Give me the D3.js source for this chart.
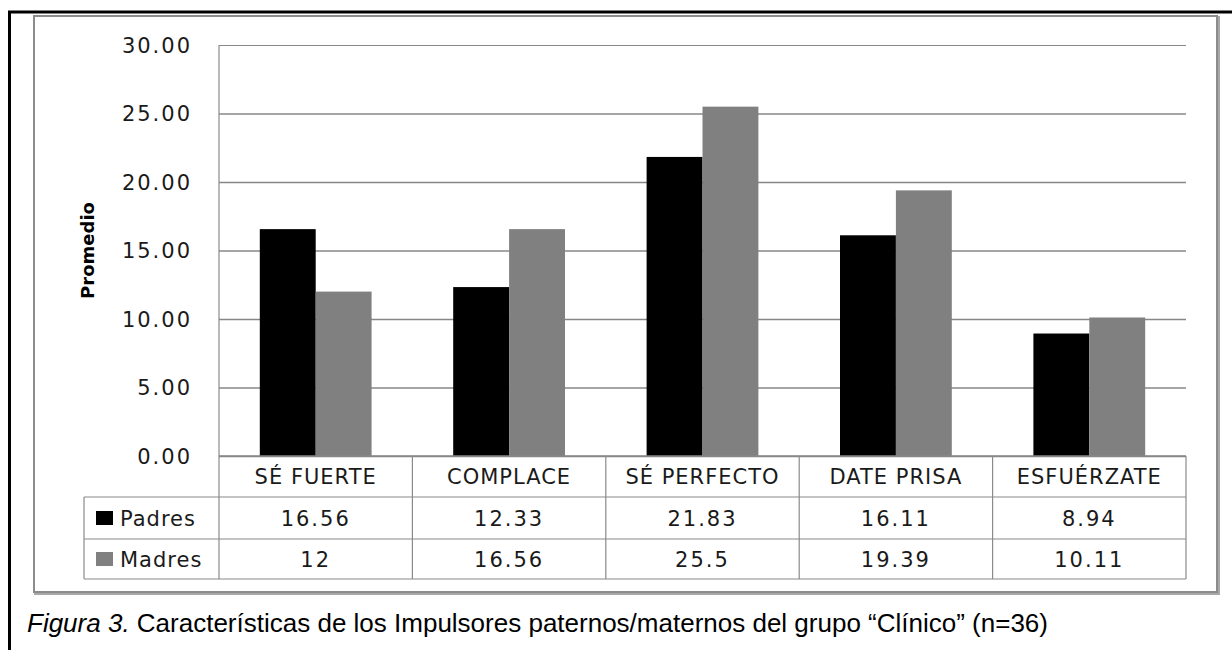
<!DOCTYPE html>
<html>
<head>
<meta charset="utf-8">
<script src="https://cdn.jsdelivr.net/npm/d3@7"></script>
<style>
  html, body { margin: 0; padding: 0; background: #fff; }
  svg { display: block; }
</style>
</head>
<body>
<svg id="chart" width="1232" height="650"></svg>
<script>
// Impulsores paternos / maternos — grupo "Clínico"
const categories = ["SÉ FUERTE", "COMPLACE", "SÉ PERFECTO", "DATE PRISA", "ESFUÉRZATE"];
const seriesNames = ["Padres", "Madres"];
const padres = [16.56, 12.33, 21.83, 16.11, 8.94];
const madres = [12, 16.56, 25.5, 19.39, 10.11];
const padresLabels = ["16.56", "12.33", "21.83", "16.11", "8.94"];
const madresLabels = ["12", "16.56", "25.5", "19.39", "10.11"];
const yTicks = [0, 5, 10, 15, 20, 25, 30];
const seriesColors = ["#000000", "#808080"];

const svg = d3.select("#chart");
const W = 1232, H = 650;

const plot = { left: 219, right: 1186, top: 45, bottom: 456 };
const rowH = [41, 42, 40]; // category row, Padres row, Madres row
const tableLeft = 84;
const gridColor = "#878787";
const textColor = "#1a1a1a";
const tickFont = "'DejaVu Sans', sans-serif";

// outer black frame (left and top edges)
svg.append("line").attr("x1", 9.5).attr("x2", 9.5).attr("y1", 11).attr("y2", H)
  .attr("stroke", "#000").attr("stroke-width", 3);
svg.append("line").attr("x1", 8).attr("x2", W).attr("y1", 12).attr("y2", 12)
  .attr("stroke", "#000").attr("stroke-width", 3);

// chart area border with light shadow on the right/bottom
svg.append("rect").attr("x", 35).attr("y", 17).attr("width", 1184).attr("height", 577)
  .attr("fill", "none").attr("stroke", "#a8a8a8").attr("stroke-width", 2);
svg.append("rect").attr("x", 34).attr("y", 16).attr("width", 1183).attr("height", 576)
  .attr("fill", "#fff").attr("stroke", "#8c8c8c").attr("stroke-width", 2);

// scales
const y = d3.scaleLinear().domain([0, 30]).range([plot.bottom, plot.top]);
const x0 = d3.scaleBand().domain(categories).range([plot.left, plot.right]).padding(0);
const x1 = d3.scaleBand().domain(seriesNames).range([0, x0.bandwidth()]).paddingInner(0).paddingOuter(0.73);

// gridlines via axis
const yAxis = d3.axisLeft(y).tickValues(yTicks).tickSize(-(plot.right - plot.left)).tickFormat(d => d.toFixed(2));
const gAxis = svg.append("g").attr("transform", `translate(${plot.left},0)`).call(yAxis);
gAxis.select(".domain").remove();
gAxis.selectAll(".tick line").attr("stroke", gridColor).attr("stroke-width", d => d === 30 ? 1 : 1.6);
gAxis.selectAll(".tick text")
  .attr("x", -27)
  .attr("dy", "0.35em")
  .attr("fill", textColor)
  .style("font-family", tickFont)
  .style("font-size", "21px")
  .style("letter-spacing", "2px");

// bars
const data = categories.map((c, i) => ({ cat: c, values: [padres[i], madres[i]] }));
const groups = svg.append("g").selectAll("g").data(data).join("g")
  .attr("transform", d => `translate(${x0(d.cat)},0)`);
groups.selectAll("rect").data(d => d.values.map((v, k) => ({ s: seriesNames[k], v, k })))
  .join("rect")
  .attr("x", d => x1(d.s))
  .attr("width", x1.bandwidth())
  .attr("y", d => y(d.v))
  .attr("height", d => y(0) - y(d.v))
  .attr("fill", d => seriesColors[d.k]);

// baseline
svg.append("line").attr("x1", plot.left).attr("x2", plot.right).attr("y1", y(0)).attr("y2", y(0))
  .attr("stroke", gridColor).attr("stroke-width", 1.6);

// data table
const r0 = plot.bottom, r1 = r0 + rowH[0], r2 = r1 + rowH[1], r3 = r2 + rowH[2];
const tbl = svg.append("g").attr("stroke", "#8a8a8a").attr("stroke-width", 1.2);
// left vertical axis line continues into the table
tbl.append("line").attr("x1", plot.left).attr("x2", plot.left).attr("y1", plot.top).attr("y2", r3);
// column dividers
categories.forEach(c => {
  const xr = x0(c) + x0.bandwidth();
  tbl.append("line").attr("x1", xr).attr("x2", xr).attr("y1", r0).attr("y2", r3);
});
tbl.append("line").attr("x1", tableLeft).attr("x2", tableLeft).attr("y1", r1).attr("y2", r3);
[r1, r2, r3].forEach(ry => {
  tbl.append("line").attr("x1", tableLeft).attr("x2", plot.right).attr("y1", ry).attr("y2", ry);
});

const cellText = (sel) => sel
  .attr("text-anchor", "middle")
  .attr("dy", "0.36em")
  .attr("fill", textColor)
  .style("font-family", tickFont)
  .style("font-size", "21px");

svg.append("g").selectAll("text").data(categories).join("text")
  .attr("x", d => x0(d) + x0.bandwidth() / 2)
  .attr("y", (r0 + r1) / 2)
  .call(cellText)
  .style("letter-spacing", "1px")
  .text(d => d);

[padresLabels, madresLabels].forEach((labels, k) => {
  const cy = k === 0 ? (r1 + r2) / 2 : (r2 + r3) / 2;
  svg.append("g").selectAll("text").data(labels).join("text")
    .attr("x", (d, i) => x0(categories[i]) + x0.bandwidth() / 2)
    .attr("y", cy)
    .call(cellText)
    .style("letter-spacing", "2px")
    .text(d => d);
  // legend key + series name
  svg.append("rect").attr("x", 96).attr("y", cy - 7).attr("width", 17).attr("height", 14)
    .attr("fill", seriesColors[k]);
  svg.append("text").attr("x", 120).attr("y", cy).attr("dy", "0.36em")
    .attr("fill", textColor)
    .style("font-family", tickFont).style("font-size", "21px").style("letter-spacing", "1px")
    .text(seriesNames[k]);
});

// y-axis title
svg.append("text")
  .attr("transform", `translate(94,${(plot.top + plot.bottom) / 2}) rotate(-90)`)
  .attr("text-anchor", "middle")
  .attr("fill", "#000")
  .style("font-family", tickFont)
  .style("font-weight", "bold")
  .style("font-size", "18px")
  .text("Promedio");

// caption
const cap = svg.append("text").attr("x", 27).attr("y", 632)
  .attr("fill", "#000")
  .style("font-family", "'Liberation Sans', Arial, sans-serif")
  .style("font-size", "26px");
cap.append("tspan").style("font-style", "italic").text("Figura 3.");
cap.append("tspan").text(" Características de los Impulsores paternos/maternos del grupo “Clínico” (n=36)");
</script>
</body>
</html>
